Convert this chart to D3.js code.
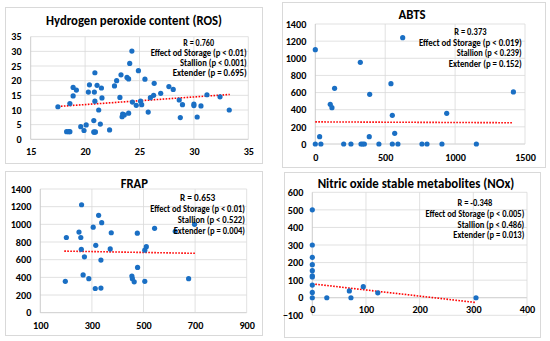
<!DOCTYPE html>
<html lang="en">
<head>
    <meta charset="UTF-8">
    <title>Semen quality scatter panels</title>
    <script src="https://d3js.org/d3.v7.min.js"></script>
    <style>
        body { margin: 0; background: #fff; }
        svg text { font-family: Carlito, Calibri, "Liberation Sans", Arial, sans-serif; font-weight: bold; fill: #000; }
    </style>
</head>
<body>
    <div id="chart"></div>

    <script>
        // ---- data ----
        var rosX = [17.5, 18.3, 18.5, 18.6, 18.6, 18.9, 18.9, 19.2, 19.6, 19.9, 20.1, 20.3, 20.4, 20.8, 20.8, 20.85, 20.95,
            20.85, 20.9, 20.9, 21.1, 21.25, 21.4, 21.5, 21.55, 22.25, 22.7, 22.9, 23.2, 23.3, 23.4, 23.45, 23.6, 23.85,
            24.0, 24.0, 24.1, 24.3, 24.35, 24.7, 24.9, 25.1, 25.2, 25.5, 25.8, 26.0, 26.3, 26.35, 26.95, 27.7, 28.1,
            28.65, 28.75, 28.95, 30.0, 30.0, 30.3, 30.65, 31.2, 32.4, 33.25];
        var rosY = [11.1, 2.6, 2.6, 2.6, 12.2, 17.7, 14.8, 16.8, 4.3, 3.0, 4.9, 16.1, 18.6, 6.4, 2.5, 2.4, 2.5,
            16.1, 22.7, 13.0, 18.4, 10.0, 5.2, 17.5, 14.1, 3.2, 18.2, 20.0, 14.3, 22.0, 7.7, 8.6, 8.3, 21.1,
            20.6, 8.9, 25.9, 30.1, 12.7, 11.6, 23.4, 13.0, 11.8, 20.5, 9.3, 14.2, 15.0, 19.1, 15.7, 18.0, 17.0,
            13.4, 7.4, 11.8, 11.5, 12.0, 7.6, 11.4, 15.2, 14.5, 10.0];
        var rosTrend = [[17.5, 11.2], [33.3, 15.3]];

        var abtsX = [0, 0, 31, 40, 107, 119, 138, 203, 255, 322, 327, 339, 351, 386, 389, 455, 541, 551, 551, 568,
            591, 625, 763, 799, 906, 940, 1152, 1417];
        var abtsY = [1100, 0, 86, 0, 463, 424, 650, 0, 0, 953, 0, 0, 0, 86, 580, 0, 704, 334, 0, 124,
            0, 1241, 0, 0, 0, 358, 0, 607];
        var abtsTrend = [[0, 258], [1415, 248]];

        var frapX = [260, 326, 338, 305, 250, 257, 201, 375, 476, 543, 623, 698, 315, 259, 371, 511, 505, 271, 335, 477,
            266, 288, 197, 455, 457, 464, 505, 313, 335, 675];
        var frapY = [1222, 1102, 1019, 968, 913, 851, 851, 905, 900, 955, 921, 1000, 763, 717, 722, 747, 708, 632, 596, 512,
            428, 385, 355, 415, 385, 349, 355, 274, 279, 385];
        var frapTrend = [[193, 697], [701, 672]];

        var noxX = [0, 0, 0, 0, 0, 0, 0, 0, 0, 0, 27, 69, 72, 95, 122, 305];
        var noxY = [500, 300, 230, 188, 154, 125, 118, 72, 30, 0, 0, 39, 0, 63, 28, 0];
        var noxTrend = [[0, 79], [304, -27]];

        var rosXTicks = [15, 20, 25, 30, 35];
        var rosYTicks = [0, 5, 10, 15, 20, 25, 30, 35];
        var abtsXTicks = [0, 500, 1000, 1500];
        var abtsYTicks = [0, 200, 400, 600, 800, 1000, 1200, 1400];
        var frapXTicks = [100, 300, 500, 700, 900];
        var frapYTicks = [0, 200, 400, 600, 800, 1000, 1200, 1400];
        var noxXTicks = [0, 100, 200, 300, 400];
        var noxYTicks = [-100, 0, 100, 200, 300, 400, 500, 600];

        var rosNotes = ["R = 0.760", "Effect od Storage (p < 0.01)", "Stallion (p < 0.001)", "Extender (p = 0.695)"];
        var abtsNotes = ["R = 0.373", "Effect od Storage (p < 0.019)", "Stallion (p < 0.239)", "Extender (p = 0.152)"];
        var frapNotes = ["R = 0.653", "Effect od Storage (p < 0.01)", "Stallion (p < 0.522)", "Extender (p = 0.004)"];
        var noxNotes = ["R = -0.348", "Effect od Storage (p < 0.005)", "Stallion (p < 0.486)", "Extender (p = 0.013)"];

        var width = 550;
        var height = 341;

        var svg = d3.select("#chart")
                    .append("svg")
                    .attr("width", width)
                    .attr("height", height);

        // layout per panel (pixel positions measured on the figure)
        var panels = [
            { title: "Hydrogen peroxide content (ROS)", titleW: 176, titleX: 134, titleY: 20,
              box: [5, 7, 257, 156], px: [30.7, 248.3], py: [139.3, 36.7],
              xs: rosX, ys: rosY, trend: rosTrend, xTicks: rosXTicks, yTicks: rosYTicks,
              xLabelY: 152, notes: rosNotes, noteR: 246.7, noteY: [42.3, 52.3, 62.3, 72.7], noteW: [30.7, 96, 66.7, 74] },
            { title: "ABTS", titleW: 27, titleX: 412, titleY: 14,
              box: [282, 2, 263, 165], px: [315.3, 525], py: [144, 24],
              xs: abtsX, ys: abtsY, trend: abtsTrend, xTicks: abtsXTicks, yTicks: abtsYTicks,
              xLabelY: 157.7, notes: abtsNotes, noteR: 521.7, noteY: [31.3, 42.7, 52.7, 63.3], noteW: [32.3, 102.7, 65, 73] },
            { title: "FRAP", titleW: 27.3, titleX: 134.3, titleY: 183.3,
              box: [5, 171, 257, 164], px: [40.3, 246.7], py: [312.7, 189],
              xs: frapX, ys: frapY, trend: frapTrend, xTicks: frapXTicks, yTicks: frapYTicks,
              xLabelY: 326, notes: frapNotes, noteR: 245, noteY: [197.3, 208.3, 219.3, 230], noteW: [35.3, 94.7, 67.3, 71.3] },
            { title: "Nitric oxide stable metabolites (NOx)", titleW: 196.7, titleX: 416, titleY: 183,
              box: [284, 172, 256, 165], px: [312.3, 527], py: [315.3, 192.3],
              xs: noxX, ys: noxY, trend: noxTrend, xTicks: noxXTicks, yTicks: noxYTicks,
              xLabelY: 309.3, notes: noxNotes, noteR: 524.3, noteY: [202.7, 213.3, 224, 234.3], noteW: [34.7, 98.7, 66.7, 71] }
        ];

        var fmt = d3.format("d");

        panels.forEach(function(p) {
            var xDom = d3.extent(p.xTicks);
            var yDom = d3.extent(p.yTicks);
            var x = d3.scaleLinear().domain(xDom).range(p.px);
            var y = d3.scaleLinear().domain(yDom).range(p.py);
            var g = svg.append("g");

            g.append("rect")
                .attr("x", p.box[0] + 0.5).attr("y", p.box[1] + 0.5)
                .attr("width", p.box[2]).attr("height", p.box[3])
                .attr("fill", "#fff")
                .attr("stroke", "#d9d9d9");

            // gridlines
            g.selectAll(".hg").data(p.yTicks).enter().append("line")
                .attr("x1", p.px[0]).attr("x2", p.px[1])
                .attr("y1", function(d) { return y(d); })
                .attr("y2", function(d) { return y(d); })
                .attr("stroke", function(d) { return d === 0 ? "#bfbfbf" : "#d9d9d9"; })
                .attr("stroke-width", 0.8);
            g.selectAll(".vg").data(p.xTicks).enter().append("line")
                .attr("y1", p.py[0]).attr("y2", p.py[1])
                .attr("x1", function(d) { return x(d); })
                .attr("x2", function(d) { return x(d); })
                .attr("stroke", function(d, i) { return i === 0 ? "#bfbfbf" : "#d9d9d9"; })
                .attr("stroke-width", 0.8);

            // tick labels through d3 axes, lines removed
            var xAxis = g.append("g")
                .attr("transform", "translate(0," + (p.xLabelY - 4) + ")")
                .call(d3.axisBottom(x).tickValues(p.xTicks).tickFormat(fmt).tickSize(0).tickPadding(0));
            var yAxis = g.append("g")
                .attr("transform", "translate(" + (p.px[0] - 9) + ",0)")
                .call(d3.axisLeft(y).tickValues(p.yTicks).tickFormat(fmt).tickSize(0).tickPadding(0));
            [xAxis, yAxis].forEach(function(a) {
                a.select(".domain").remove();
                a.selectAll("text")
                    .style("font-family", 'Carlito, Calibri, "Liberation Sans", Arial, sans-serif')
                    .style("font-weight", "bold")
                    .style("font-size", "10.2px")
                    .attr("fill", "#000");
            });
            xAxis.selectAll("text").attr("dy", "0.32em").attr("y", 4);

            // trend line
            g.append("line")
                .attr("x1", x(p.trend[0][0])).attr("y1", y(p.trend[0][1]))
                .attr("x2", x(p.trend[1][0])).attr("y2", y(p.trend[1][1]))
                .attr("stroke", "#ff0000")
                .attr("stroke-width", 1.6)
                .attr("stroke-dasharray", "1.6,1.4");

            // points
            g.selectAll("circle").data(p.xs).enter().append("circle")
                .attr("cx", function(d) { return x(d); })
                .attr("cy", function(d, i) { return y(p.ys[i]); })
                .attr("r", 2.6)
                .attr("fill", "#1a6fc4");

            g.append("text")
                .attr("x", p.titleX).attr("y", p.titleY)
                .attr("text-anchor", "middle")
                .attr("dominant-baseline", "central")
                .style("font-size", "13.5px")
                .attr("textLength", p.titleW)
                .attr("lengthAdjust", "spacingAndGlyphs")
                .text(p.title);

            // annotation block: first line centred on widest line, the rest right aligned
            var centre = p.noteR - d3.max(p.noteW) / 2;
            g.selectAll(".note").data(p.notes).enter().append("text")
                .attr("x", function(d, i) { return i === 0 ? centre : p.noteR; })
                .attr("y", function(d, i) { return p.noteY[i]; })
                .attr("text-anchor", function(d, i) { return i === 0 ? "middle" : "end"; })
                .attr("dominant-baseline", "central")
                .style("font-size", "9.3px")
                .attr("textLength", function(d, i) { return p.noteW[i]; })
                .attr("lengthAdjust", "spacingAndGlyphs")
                .text(function(d) { return d; });
        });
    </script>
</body>
</html>
